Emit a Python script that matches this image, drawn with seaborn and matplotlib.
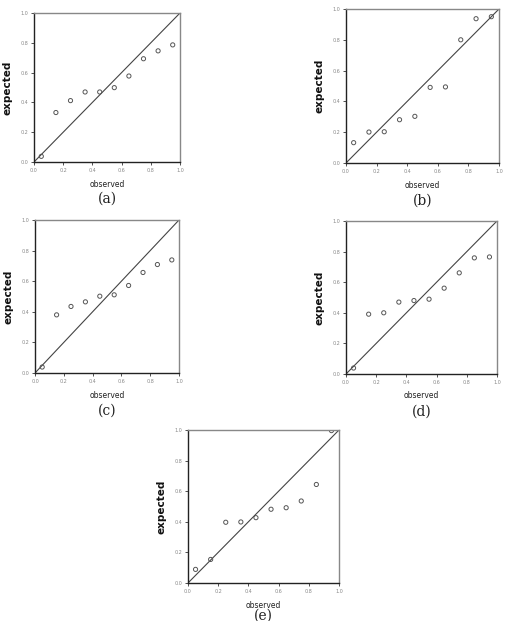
import numpy as np
import pandas as pd
import matplotlib
matplotlib.use("Agg")
import matplotlib.pyplot as plt
import seaborn as sns

# observed proportions, same for every panel
observed = [0.05, 0.15, 0.25, 0.35, 0.45, 0.55, 0.65, 0.75, 0.85, 0.95]

# expected values
exp_a = [0.038, 0.332, 0.412, 0.470, 0.470, 0.499, 0.577, 0.693, 0.746, 0.786]
exp_b = [0.132, 0.201, 0.203, 0.281, 0.303, 0.491, 0.494, 0.800, 0.937, 0.950]
exp_c = [0.039, 0.380, 0.435, 0.465, 0.502, 0.511, 0.572, 0.657, 0.709, 0.739]
exp_d = [0.039, 0.391, 0.400, 0.470, 0.480, 0.489, 0.561, 0.661, 0.759, 0.765]
exp_e = [0.089, 0.154, 0.397, 0.399, 0.427, 0.482, 0.492, 0.536, 0.644, 0.996]

panels = ["(a)", "(b)", "(c)", "(d)", "(e)"]
series = [exp_a, exp_b, exp_c, exp_d, exp_e]
ticks = [0.0, 0.2, 0.4, 0.6, 0.8, 1.0]

W, H = 507, 621
# axes boxes in pixels: left, top, right, bottom
boxes = [(34, 13, 180, 162), (346, 9, 499, 163), (35, 220, 179, 373),
         (346, 221, 497, 374), (188, 430, 339, 583)]
# y position of the (a)..(e) captions, axes fraction
cap_y = [-0.2, -0.2, -0.2, -0.2, -0.165]

sns.set_style("white")
fig = plt.figure(figsize=(W / 100, H / 100), dpi=100)

for name, vals, (l, t, r, b), cy in zip(panels, series, boxes, cap_y):
    ax = fig.add_axes([l / W, 1 - b / H, (r - l) / W, (b - t) / H])
    df = pd.DataFrame({"observed": observed, "expected": vals})
    ax.axline((0, 0), slope=1, color="#444444", lw=0.8, zorder=1)
    sns.scatterplot(data=df, x="observed", y="expected", ax=ax, marker="o",
                    s=9, facecolor="none", edgecolor="#555555", linewidth=0.7,
                    zorder=2)
    ax.set_xlim(0, 1)
    ax.set_ylim(0, 1)
    ax.set_xticks(ticks)
    ax.set_yticks(ticks)
    ax.set_xticklabels([f"{v:.1f}" for v in ticks])
    ax.set_yticklabels([f"{v:.1f}" for v in ticks])
    ax.tick_params(labelsize=3.5, length=2, width=0.6, colors="#333333",
                   labelcolor="#888888", pad=2, direction="out",
                   bottom=True, left=True)
    for side in ["left", "bottom"]:
        ax.spines[side].set_color("#222222")
        ax.spines[side].set_linewidth(1.0)
    for side in ["top", "right"]:
        ax.spines[side].set_color("#888888")
        ax.spines[side].set_linewidth(1.0)
    ax.set_xlabel("observed", fontsize=5.5, color="#222222", labelpad=5)
    ax.set_ylabel("expected", fontsize=7.5, fontweight="bold", color="#111111",
                  labelpad=6)
    ax.text(0.5, cy, name, transform=ax.transAxes, ha="center", va="top",
            fontsize=10, family="DejaVu Serif", color="#222222")

fig.savefig("out.png", dpi=100)
